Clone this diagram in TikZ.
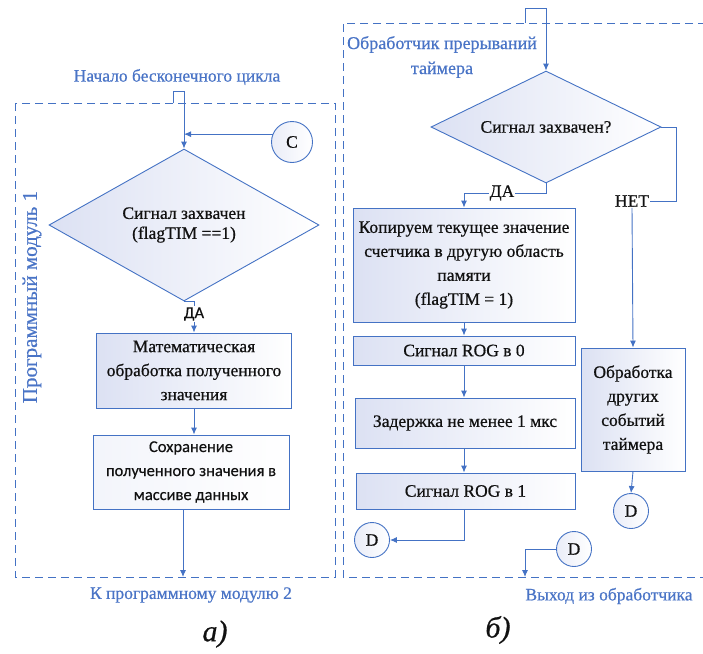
\documentclass[tikz,border=0pt]{standalone}
\usepackage{fontspec}
\setmainfont{Liberation Serif}[FakeBold=0.6]
\newfontfamily\calfont{Carlito}[FakeBold=0.4]
\usepackage{xcolor}
\usetikzlibrary{arrows.meta,positioning,shapes.geometric,calc}
\definecolor{cline}{HTML}{4472C4}
\definecolor{ctxt}{HTML}{4A74C6}
\definecolor{cshade}{HTML}{DCE1F3}
\definecolor{cink}{HTML}{111111}
\tikzset{
  blk/.style={rectangle, draw=cline, line width=0.9pt, left color=cshade, right color=white,
    text=cink, align=center, inner sep=2pt, font=\fontsize{17.5}{24}\selectfont},
  dec/.style={diamond, draw=cline, line width=0.9pt, left color=cshade, right color=white,
    text=cink, align=center, inner sep=0pt, font=\fontsize{17.5}{20}\selectfont},
  conn/.style={circle, draw=cline, line width=0.9pt, left color=cshade!60, right color=white,
    text=cink, inner sep=0pt, minimum size=35pt, font=\fontsize{17.5}{20}\selectfont},
  lbl/.style={text=ctxt, align=center, font=\fontsize{17.5}{24}\selectfont},
  ans/.style={text=cink, fill=white, inner sep=1pt, font=\fontsize{17.5}{20}\selectfont},
  subcap/.style={text=cink, font=\fontsize{30}{32}\selectfont\itshape},
  arr/.style={-{Latex[length=7pt,width=6pt]}, line width=0.9pt, draw=cline},
  ln/.style={line width=0.9pt, draw=cline},
  frame/.style={draw=cline, line width=0.9pt, dash pattern=on 8pt off 5pt},
}
\begin{document}
\begin{tikzpicture}[x=1pt, y=-1pt]
  \useasboundingbox (0,0) rectangle (703,653);

  % --- а) program module 1
  \draw[frame] (15,103) rectangle (335,577);
  \node[lbl] (startA) at (177,77) {Начало бесконечного цикла};
  \node[lbl, rotate=90, font=\fontsize{21}{24}\selectfont] (modA) at (32,297) {Программный модуль 1};
  \node[dec, minimum width=270pt, minimum height=152pt, aspect=1.78] (d1) at (184,225)
    {Сигнал захвачен\\(flagTIM ==1)};
  \node[conn, minimum size=41pt] (C) at (292,142) {C};
  \node[blk, minimum width=195pt, minimum height=75pt] (m1) at (194,370.5)
    {Математическая\\обработка полученного\\значения};
  \node[blk, minimum width=196pt, minimum height=74pt, left color=cshade!35,
    font=\calfont\fontsize{16.5}{24}\selectfont] (m2) at (191,472)
    {Сохранение\\полученного значения в\\массиве данных};
  \node[ans, font=\calfont\fontsize{16.5}{19}\selectfont] (daA) at (194,314) {ДА};
  \node[lbl] (endA) at (191,595) {К программному модулю 2};
  \node[subcap] (capA) at (215,634) {а)};
  \coordinate (inA) at (173,103);
  \coordinate (outA) at (183,577);

  \draw[arr] (inA) -- ++(0,-12) -| (d1.north);
  \draw[arr] (C.158) -- (C.158 -| d1.north);
  \draw[ln] (d1.south) -| (daA.north);
  \draw[arr] (daA.south) -- (m1.north);
  \draw[arr] (m1.south -| daA.south) -- (m2.north -| daA.south);
  \draw[arr] (m2.south -| outA) -- (outA);

  % --- б) timer interrupt handler
  \draw[frame] (706,23) -- (343,23) -- (343,577) -- (706,577);
  \node[lbl, font=\fontsize{18}{25}\selectfont] (startB) at (442,57) {Обработчик прерываний\\таймера};
  \node[dec, minimum width=230pt, minimum height=112pt, aspect=2.05] (d2) at (546,127)
    {Сигнал захвачен?};
  \node[blk, minimum width=222pt, minimum height=114pt] (copy) at (464,265)
    {Копируем текущее значение\\счетчика в другую область\\памяти\\(flagTIM = 1)};
  \node[blk, minimum width=222pt, minimum height=29pt] (rog0) at (464,350.5) {Сигнал ROG в 0};
  \node[blk, minimum width=220pt, minimum height=50pt] (wait) at (465,423) {Задержка не менее 1 мкс};
  \node[blk, minimum width=219pt, minimum height=36pt] (rog1) at (465.5,491) {Сигнал ROG в 1};
  \node[blk, minimum width=104pt, minimum height=123pt] (other) at (633,409.5)
    {Обработка\\других\\событий\\таймера};
  \node[ans] (daB) at (502,193) {ДА};
  \node[ans] (netB) at (632,201) {НЕТ};
  \node[conn] (D1) at (372,540) {D};
  \node[conn] (D2) at (631,511) {D};
  \node[conn] (D3) at (574,549) {D};
  \node[lbl] (endB) at (609,596) {Выход из обработчика};
  \node[subcap] (capB) at (498,630) {б)};
  \coordinate (inB) at (525,23);
  \coordinate (outB) at (525,577);

  \draw[arr] (inB) -- ++(0,-15) -| (d2.north);
  \draw[ln] (d2.south) |- (daB.east);
  \draw[arr] (daB.west) -| (copy.north);
  \draw[ln] (d2.east) -- ++(15,0) |- (netB.east);
  \draw[arr] (netB.south) -- (other.north);
  \draw[arr] (copy.south) -- (copy.south |- rog0.north);
  \draw[arr] (rog0.south) -- (rog0.south |- wait.north);
  \draw[arr] (wait.south -| rog0.south) -- (rog1.north -| rog0.south);
  \draw[arr] (rog1.south -| rog0.south) |- (D1.east);
  \draw[arr] (other.south) -- (D2.north);
  \draw[arr] (D3.west) -| (outB);
\end{tikzpicture}
\end{document}
